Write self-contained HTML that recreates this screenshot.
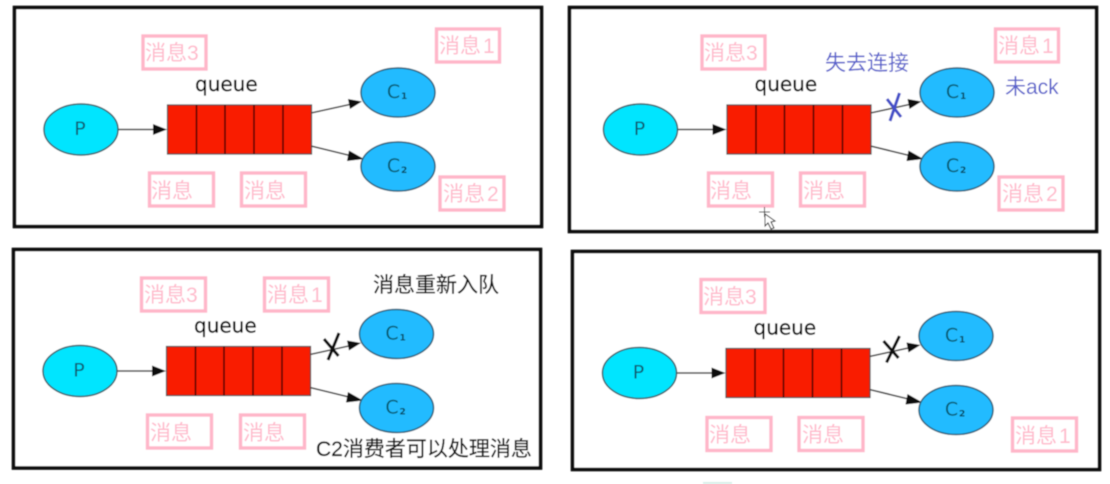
<!DOCTYPE html>
<html>
<head>
<meta charset="utf-8">
<style>
html,body{margin:0;padding:0;background:#fff;width:1110px;height:484px;overflow:hidden}
svg{display:block}
.f{fill:#fff;stroke:#0a0a0a;stroke-width:3.6}
.l{stroke:#444;stroke-width:1.6;fill:none}
.h{fill:#111}
.q{fill:#f91c00;stroke:#444;stroke-width:1.2}
.d{stroke:#300;stroke-width:1.4}
.p{fill:#00e5ff;stroke:#355f68;stroke-width:1.5}
.c{fill:#22bbff;stroke:#2d5f78;stroke-width:1.5}
.n{font-family:"DejaVu Sans","Liberation Sans",sans-serif;font-size:19px;fill:#0a5a70;text-anchor:middle}
.s{font-family:"DejaVu Sans","Liberation Sans",sans-serif;font-size:9px;font-weight:bold;fill:#0a4a60}
.t{font-family:"DejaVu Sans","Liberation Sans",sans-serif;font-size:20px;fill:#000;stroke:#000;stroke-width:.25}
.b{fill:#fff;stroke:#ffb6c9;stroke-width:3.4}
.m{font-family:"Liberation Sans","Noto Sans CJK SC",sans-serif;font-size:21px;fill:#ffb9cb}
.u{font-family:"Liberation Sans","Noto Sans CJK SC",sans-serif;font-size:21px;fill:#5a62cc}
.k{font-family:"Liberation Sans","Noto Sans CJK SC",sans-serif;font-size:21px;fill:#111;stroke:#111;stroke-width:.2}
</style>
</head>
<body>
<svg width="1110" height="484" viewBox="0 0 1110 484" xmlns="http://www.w3.org/2000/svg">
<defs><filter id="bl" x="-2%" y="-2%" width="104%" height="104%"><feGaussianBlur stdDeviation="0.45"/></filter></defs>
<g filter="url(#bl)">

<!-- Panel 1 -->
<rect class="f" x="14.5" y="7.5" width="527" height="219"/>
<rect class="b" x="143" y="36" width="63" height="33"/><text class="m" x="145" y="60">消息3</text>
<rect class="b" x="436.5" y="29" width="63" height="33"/><text class="m" x="439" y="53">消息<tspan dx="2">1</tspan></text>
<rect class="b" x="149.5" y="173" width="64" height="33"/><text class="m" x="151" y="198">消息</text>
<rect class="b" x="241.5" y="173" width="64" height="33"/><text class="m" x="244" y="198">消息</text>
<rect class="b" x="440" y="177" width="64" height="33"/><text class="m" x="443" y="201">消息<tspan dx="2">2</tspan></text>
<g>
<text class="t" x="195" y="91">queue</text>
<line class="l" x1="118" y1="129.500" x2="156" y2="129.500"/><polygon class="h" points="167,129.500 153,124 153,135"/>
<rect class="q" x="167.5" y="105" width="144" height="49"/>
<path class="d" d="M196.500 105V154M225 105V154M254 105V154M283 105V154"/>
<line class="l" x1="311" y1="113" x2="352" y2="104"/><polygon class="h" points="362,101.500 348,99 350,109"/>
<line class="l" x1="311" y1="146" x2="352" y2="156"/><polygon class="h" points="364,159 349,150.500 347,161"/>
<ellipse class="p" cx="81" cy="129.500" rx="37" ry="25.500"/><text class="n" x="80" y="135">P</text>
<ellipse class="c" cx="398" cy="92.500" rx="37" ry="24.500"/><text class="n" x="393.500" y="98">C</text><text class="s" x="401" y="99">1</text>
<ellipse class="c" cx="398" cy="166.500" rx="37" ry="24.500"/><text class="n" x="393.500" y="172">C</text><text class="s" x="401" y="173">2</text>
</g>

<!-- Panel 2 -->
<rect class="f" x="569.5" y="7.5" width="527" height="224"/>
<rect class="b" x="702" y="36" width="63" height="33"/><text class="m" x="704" y="60">消息3</text>
<rect class="b" x="995.500" y="29" width="63" height="33"/><text class="m" x="998" y="53">消息<tspan dx="2">1</tspan></text>
<rect class="b" x="708.500" y="173" width="64" height="33"/><text class="m" x="710" y="198">消息</text>
<rect class="b" x="800.500" y="173" width="64" height="33"/><text class="m" x="803" y="198">消息</text>
<rect class="b" x="999" y="177" width="64" height="33"/><text class="m" x="1002" y="201">消息<tspan dx="2">2</tspan></text>
<g transform="translate(559.500,0)">
<text class="t" x="195" y="91">queue</text>
<line class="l" x1="118" y1="129.500" x2="156" y2="129.500"/><polygon class="h" points="167,129.500 153,124 153,135"/>
<rect class="q" x="167.5" y="105" width="144" height="49"/>
<path class="d" d="M196.500 105V154M225 105V154M254 105V154M283 105V154"/>
<line class="l" x1="311" y1="113" x2="352" y2="104"/><polygon class="h" points="362,101.500 348,99 350,109"/>
<line class="l" x1="311" y1="146" x2="352" y2="156"/><polygon class="h" points="364,159 349,150.500 347,161"/>
<ellipse class="p" cx="81" cy="129.500" rx="37" ry="25.500"/><text class="n" x="80" y="135">P</text>
<ellipse class="c" cx="397.500" cy="92.500" rx="37" ry="24.500"/><text class="n" x="393" y="98">C</text><text class="s" x="400.500" y="99">1</text>
<ellipse class="c" cx="397.500" cy="166.500" rx="37" ry="24.500"/><text class="n" x="393" y="172">C</text><text class="s" x="400.500" y="173">2</text>
</g>
<path d="M887 99L901 117M899.500 93L890 121" stroke="#4450c8" stroke-width="3" fill="none"/>
<text class="u" x="825" y="70">失去连接</text>
<text class="u" x="1005" y="94">未ack</text>
<path d="M765 214L765 226L768 223L771 229L774 228L771 222L775 221Z" fill="#fff" stroke="#222" stroke-width="1"/>
<path d="M759 212H770M764.500 207V217" stroke="#222" stroke-width="1"/>

<!-- Panel 3 -->
<rect class="f" x="13.5" y="249.500" width="527" height="218.500"/>
<rect class="b" x="141.500" y="278" width="64" height="33"/><text class="m" x="144" y="302">消息3</text>
<rect class="b" x="264.500" y="278" width="64" height="33"/><text class="m" x="267" y="302">消息<tspan dx="2">1</tspan></text>
<rect class="b" x="147.500" y="415" width="64" height="33"/><text class="m" x="150" y="440">消息</text>
<rect class="b" x="240.500" y="415" width="64" height="33"/><text class="m" x="243" y="440">消息</text>
<g transform="translate(-1,241.500)">
<text class="t" x="195" y="91">queue</text>
<line class="l" x1="118" y1="129.500" x2="156" y2="129.500"/><polygon class="h" points="167,129.500 153,124 153,135"/>
<rect class="q" x="167.5" y="105" width="144" height="49"/>
<path class="d" d="M196.500 105V154M225 105V154M254 105V154M283 105V154"/>
<line class="l" x1="311" y1="113" x2="352" y2="104"/><polygon class="h" points="362,101.500 348,99 350,109"/>
<line class="l" x1="311" y1="146" x2="352" y2="156"/><polygon class="h" points="364,159 349,150.500 347,161"/>
<ellipse class="p" cx="81" cy="129.500" rx="37" ry="25.500"/><text class="n" x="80" y="135">P</text>
<ellipse class="c" cx="397.500" cy="92.500" rx="37" ry="24.500"/><text class="n" x="393" y="98">C</text><text class="s" x="400.500" y="99">1</text>
<ellipse class="c" cx="397.500" cy="166.500" rx="37" ry="24.500"/><text class="n" x="393" y="172">C</text><text class="s" x="400.500" y="173">2</text>
</g>
<path d="M324 339L338.500 356M339 333L328 360" stroke="#111" stroke-width="3" fill="none"/>
<text class="k" x="373" y="292">消息重新入队</text>
<text class="k" x="316" y="456">C2消费者可以处理消息</text>

<!-- Panel 4 -->
<rect class="f" x="572.5" y="251.500" width="527" height="218"/>
<rect class="b" x="701" y="279.500" width="64" height="33"/><text class="m" x="703" y="304">消息3</text>
<rect class="b" x="707" y="417.500" width="64" height="33"/><text class="m" x="709" y="442">消息</text>
<rect class="b" x="799" y="417.500" width="64" height="33"/><text class="m" x="802" y="442">消息</text>
<rect class="b" x="1012.500" y="418" width="64" height="33"/><text class="m" x="1015" y="443">消息<tspan dx="2">1</tspan></text>
<g transform="translate(558.500,243.500)">
<text class="t" x="195" y="91">queue</text>
<line class="l" x1="118" y1="129.500" x2="156" y2="129.500"/><polygon class="h" points="167,129.500 153,124 153,135"/>
<rect class="q" x="167.5" y="105" width="144" height="49"/>
<path class="d" d="M196.500 105V154M225 105V154M254 105V154M283 105V154"/>
<line class="l" x1="311" y1="113" x2="352" y2="104"/><polygon class="h" points="362,101.500 348,99 350,109"/>
<line class="l" x1="311" y1="146" x2="352" y2="156"/><polygon class="h" points="364,159 349,150.500 347,161"/>
<ellipse class="p" cx="81" cy="129.500" rx="37" ry="25.500"/><text class="n" x="80" y="135">P</text>
<ellipse class="c" cx="397.500" cy="92.500" rx="37" ry="24.500"/><text class="n" x="393" y="98">C</text><text class="s" x="400.500" y="99">1</text>
<ellipse class="c" cx="397.500" cy="166.500" rx="37" ry="24.500"/><text class="n" x="393" y="172">C</text><text class="s" x="400.500" y="173">2</text>
</g>
<path d="M883.500 341L898.500 358M899.500 336L886.500 362.500" stroke="#111" stroke-width="3" fill="none"/>
<rect x="703" y="482" width="29" height="2" fill="#d8efe8"/>
</g>
</svg>
</body>
</html>
